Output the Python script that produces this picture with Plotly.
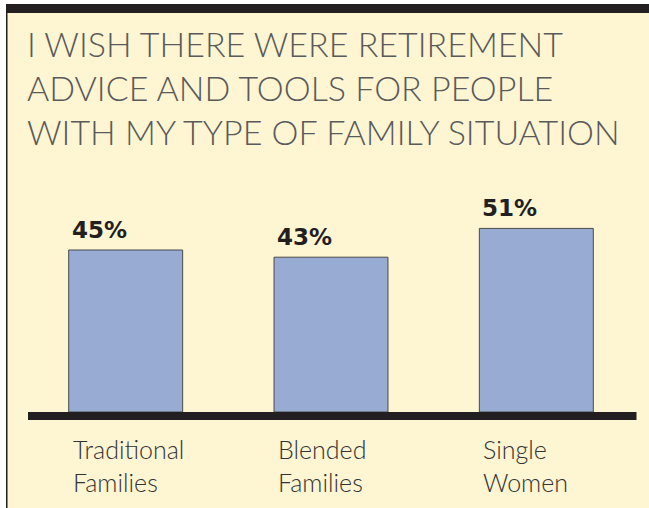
import plotly.graph_objects as go

# ---- data ----
categories = ["Traditional Families", "Blended Families", "Single Women"]
label_lines = [["Traditional", "Families"], ["Blended", "Families"], ["Single", "Women"]]
values = [45, 43, 51]
value_labels = ["45%", "43%", "51%"]
title_lines = ["I WISH THERE WERE RETIREMENT",
               "ADVICE AND TOOLS FOR PEOPLE",
               "WITH MY TYPE OF FAMILY SITUATION"]

# ---- style ----
W, H = 649, 508
CREAM = "#FEF5D2"
DARK = "#231F20"
BAR = "#97ABD3"
LIGHT_FONT = "Lato"

def fx(px):
    return px / W

def fy(py):
    return (H - py) / H

fig = go.Figure()
fig.add_trace(go.Bar(
    x=categories, y=values,
    marker=dict(color=BAR, line=dict(color="#4a4a4a", width=1)),
    hoverinfo="skip",
))

annotations = []
# title
annotations.append(dict(
    xref="paper", yref="paper", x=fx(25), y=fy(21),
    xanchor="left", yanchor="top", align="left", showarrow=False,
    text="<br>".join(title_lines),
    font=dict(family=LIGHT_FONT, size=34, weight=300, color="#5a5a5a"),
))
# value labels and category labels
for cat, val, vl, lines in zip(categories, values, value_labels, label_lines):
    annotations.append(dict(
        xref="x", yref="y", x=cat, y=val, xanchor="left", yanchor="bottom",
        xshift=-56, yshift=5, showarrow=False, text=vl,
        font=dict(family="DejaVu Sans", size=23, weight="bold", color=DARK),
    ))
    annotations.append(dict(
        xref="x", yref="y", x=cat, y=0, xanchor="left", yanchor="top",
        xshift=-55, yshift=-20, showarrow=False, align="left",
        text="<br>".join(lines),
        font=dict(family=LIGHT_FONT, size=25, weight=300, color="#333333"),
    ))

shapes = [
    # cream panel
    dict(type="rect", xref="paper", yref="paper", x0=fx(7), x1=1, y0=0, y1=fy(13),
         fillcolor=CREAM, line=dict(width=0), layer="below"),
    # top black bar
    dict(type="rect", xref="paper", yref="paper", x0=fx(6), x1=1, y0=fy(13), y1=fy(4),
         fillcolor=DARK, line=dict(width=0), layer="above"),
    # left border
    dict(type="rect", xref="paper", yref="paper", x0=fx(6), x1=fx(7.5), y0=0, y1=fy(13),
         fillcolor=DARK, line=dict(width=0), layer="above"),
    # baseline
    dict(type="rect", xref="paper", yref="paper", x0=fx(28), x1=fx(636.5), y0=fy(420), y1=fy(412),
         fillcolor=DARK, line=dict(width=0), layer="above"),
]

fig.update_layout(
    width=W, height=H,
    margin=dict(l=0, r=0, t=0, b=0, pad=0),
    paper_bgcolor="white", plot_bgcolor="rgba(0,0,0,0)",
    showlegend=False, bargap=0.445,
    xaxis=dict(domain=[fx(23), fx(639)], range=[-0.5, 2.5], visible=False, fixedrange=True),
    yaxis=dict(domain=[fy(412), fy(196)], range=[0, 60], visible=False, fixedrange=True),
    annotations=annotations, shapes=shapes,
)

fig.write_html("out.html", config={"displayModeBar": False})
